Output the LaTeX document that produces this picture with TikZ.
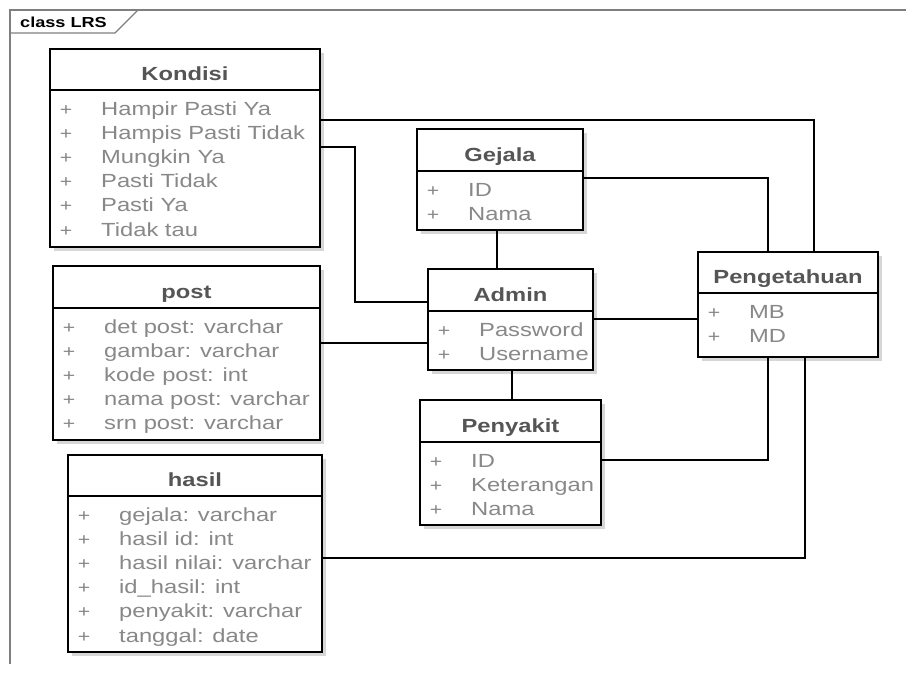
\documentclass[tikz,border=0pt]{standalone}
\usepackage{fontspec}
\setmainfont{Liberation Sans}[FakeStretch=1.25]
\usetikzlibrary{shadows}
\definecolor{titlegray}{HTML}{555555}
\definecolor{attrgray}{HTML}{888888}
\definecolor{framegray}{HTML}{7F7F7F}
\tikzset{
  clsnode/.style={draw=black, line width=2.6pt, fill=white, inner sep=0pt, outer sep=0pt,
    drop shadow={shadow xshift=4pt, shadow yshift=-4pt, fill=black!16, opacity=1}},
  sepline/.style={draw=black, line width=2pt},
  clstitle/.style={anchor=base, inner sep=0pt, text=titlegray, font=\bfseries\fontsize{19}{21}\selectfont},
  attr/.style={anchor=base west, inner sep=0pt, text=attrgray, font=\fontsize{19}{21}\selectfont},
  plus/.style={anchor=base, inner sep=0pt, text=attrgray, font=\fontsize{17}{19}\selectfont},
  conn/.style={draw=black, line width=2.4pt},
  frameline/.style={draw=framegray, line width=1.4pt},
}
\newcommand\umlclass[8]{%
  \node[clsnode, minimum width={(#4-#2)*1pt}, minimum height={(#5-#3)*1pt}] (#1) at ({(#2+#4)/2},{(#3+#5)/2}) {};
  \draw[sepline] (#1.west |- 0,#6) -- (#1.east |- 0,#6);
  \node[clstitle] (#1-t) at ({(#2+#4)/2},{#6-10}) {#7};
  \foreach \txt [count=\i] in {#8} {
    \node[plus] (#1-p\i) at ({#2+16},{#6+25+(\i-1)*24.2}) {+};
    \node[attr] (#1-a\i) at ({#2+51},{#6+25+(\i-1)*24.2}) {\txt};
  }
}
\begin{document}
\begin{tikzpicture}[x=1pt,y=-1pt]
\useasboundingbox (0,0) rectangle (906,673);
% frame
\draw[frameline] (10,664) -- (10,10) -- (906,10);
\draw[frameline] (10,33) -- (115,33) -- (138,10);
\node[anchor=base west, inner sep=0pt, font=\bfseries\fontsize{14.5}{16}\selectfont] (frametitle) at (20,27) {class LRS};
% classes
\umlclass{kondisi}{50}{49}{320}{247}{90}{Kondisi}{Hampir Pasti Ya,Hampis Pasti Tidak,Mungkin Ya,Pasti Tidak,Pasti Ya,Tidak tau}
\umlclass{post}{53}{266}{320}{440}{308}{post}{det post: varchar,gambar: varchar,kode post: int,nama post: varchar,srn post: varchar}
\umlclass{hasil}{68}{455}{322}{652}{496}{hasil}{gejala: varchar,hasil id: int,hasil nilai: varchar,id\_hasil: int,penyakit: varchar,tanggal: date}
\umlclass{gejala}{417}{129}{583}{230}{171}{Gejala}{ID,Nama}
\umlclass{admin}{428}{269}{593}{370}{311}{Admin}{Password,Username}
\umlclass{penyakit}{420}{400}{601}{525}{442}{Penyakit}{ID,Keterangan,Nama}
\umlclass{peng}{698}{252}{878}{357}{293}{Pengetahuan}{MB,MD}
% connectors
\coordinate (bend) at (355,147);
\draw[conn] (kondisi.east |- 0,120) -| (peng.north -| 814,0);
\draw[conn] (kondisi.east |- 0,147) -- (bend) |- (admin.west |- 0,302);
\draw[conn] (post.east |- 0,343) -- (admin.west |- 0,343);
\draw[conn] (gejala.south -| 497,0) -- (admin.north -| 497,0);
\draw[conn] (gejala.east |- 0,178) -| (peng.north -| 768,0);
\draw[conn] (admin.east |- 0,319) -- (peng.west |- 0,319);
\draw[conn] (admin.south -| 512,0) -- (penyakit.north -| 512,0);
\draw[conn] (penyakit.east |- 0,460) -| (peng.south -| 768,0);
\draw[conn] (hasil.east |- 0,558) -| (peng.south -| 805,0);
\end{tikzpicture}
\end{document}
